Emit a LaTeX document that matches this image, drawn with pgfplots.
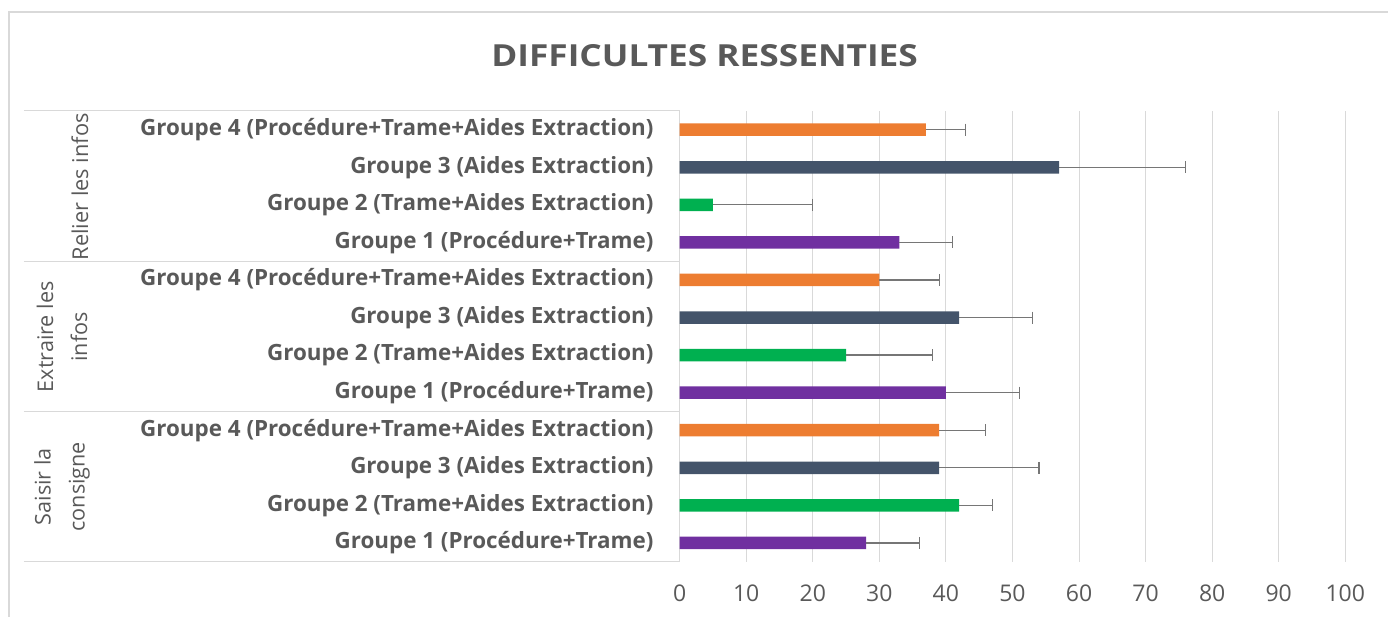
\documentclass[border=0pt]{standalone}
\usepackage{pgfplots}
\pgfplotsset{compat=1.18}
\usepackage{fontspec}
\setmainfont{Open Sans}
\newfontfamily\titlefont[FakeStretch=1.16]{Open Sans}
\definecolor{txt}{HTML}{595959}
\definecolor{grd}{HTML}{D9D9D9}
\definecolor{corange}{HTML}{ED7D31}
\definecolor{cblue}{HTML}{44546A}
\definecolor{cgreen}{HTML}{00B050}
\definecolor{cpurple}{HTML}{7030A0}
\definecolor{errc}{HTML}{767676}
\begin{document}
\begin{tikzpicture}[x=1pt,y=1pt]
\path (0,0) rectangle (1389,617);
\draw[grd,line width=1.5pt] (9,0) -- (9,605) -- (1389,605);
\node[txt,font=\titlefont\fontsize{30.4}{36}\selectfont\bfseries] at (705,561) {DIFFICULTES RESSENTIES};
\foreach \yy in {506,355,205.3,55} {\draw[grd,line width=1pt] (24,\yy) -- (680,\yy);}
\node[txt,rotate=90,font=\fontsize{21.8}{26}\selectfont] at (80,430) {Relier les infos};
\node[txt,rotate=90,align=center,font=\fontsize{21.6}{34}\selectfont] at (62,280) {Extraire les\\infos};
\node[txt,rotate=90,align=center,font=\fontsize{21.6}{34}\selectfont] at (62,130) {Saisir la\\consigne};
\begin{axis}[
  at={(680pt,55pt)}, anchor=south west,
  scale only axis, width=666pt, height=451pt,
  xmin=0, xmax=100, ymin=-0.5, ymax=11.5,
  xtick={0,10,...,100}, ytick={0,...,11},
  yticklabels={Groupe 1 (Procédure+Trame),Groupe 2 (Trame+Aides Extraction),Groupe 3 (Aides Extraction),Groupe 4 (Procédure+Trame+Aides Extraction),
               Groupe 1 (Procédure+Trame),Groupe 2 (Trame+Aides Extraction),Groupe 3 (Aides Extraction),Groupe 4 (Procédure+Trame+Aides Extraction),
               Groupe 1 (Procédure+Trame),Groupe 2 (Trame+Aides Extraction),Groupe 3 (Aides Extraction),Groupe 4 (Procédure+Trame+Aides Extraction)},
  major tick length=0pt,
  axis x line*=bottom, axis y line*=left,
  x axis line style={draw=none},
  y axis line style={draw=grd,line width=1pt,-},
  xmajorgrids, grid style={grd,line width=1pt},
  /pgf/number format/assume math mode=true,
  xticklabel style={txt,font=\fontsize{23}{27}\selectfont,inner sep=0pt,yshift=-23pt},
  yticklabel style={txt,font=\fontsize{22.4}{26}\selectfont\bfseries,inner sep=0pt,xshift=-26pt},
  xbar, bar width=12.5pt, bar shift=0pt,
  error bars/error mark=|,
  error bars/error bar style={draw=errc,line width=1.2pt},
  error bars/error mark options={draw=errc,line width=1.2pt,mark size=6pt},
  clip=false,
]
% Groupe 1 (purple)
\addplot[draw=none,fill=cpurple,error bars/.cd,x dir=plus,x explicit]
 coordinates {(28,0) +- (8,0) (40,4) +- (11,0) (33,8) +- (8,0)};
% Groupe 2 (green)
\addplot[draw=none,fill=cgreen,error bars/.cd,x dir=plus,x explicit]
 coordinates {(42,1) +- (5,0) (25,5) +- (13,0) (5,9) +- (15,0)};
% Groupe 3 (blue)
\addplot[draw=none,fill=cblue,error bars/.cd,x dir=plus,x explicit]
 coordinates {(39,2) +- (15,0) (42,6) +- (11,0) (57,10) +- (19,0)};
% Groupe 4 (orange)
\addplot[draw=none,fill=corange,error bars/.cd,x dir=plus,x explicit]
 coordinates {(39,3) +- (7,0) (30,7) +- (9,0) (37,11) +- (6,0)};
\end{axis}
\end{tikzpicture}
\end{document}
